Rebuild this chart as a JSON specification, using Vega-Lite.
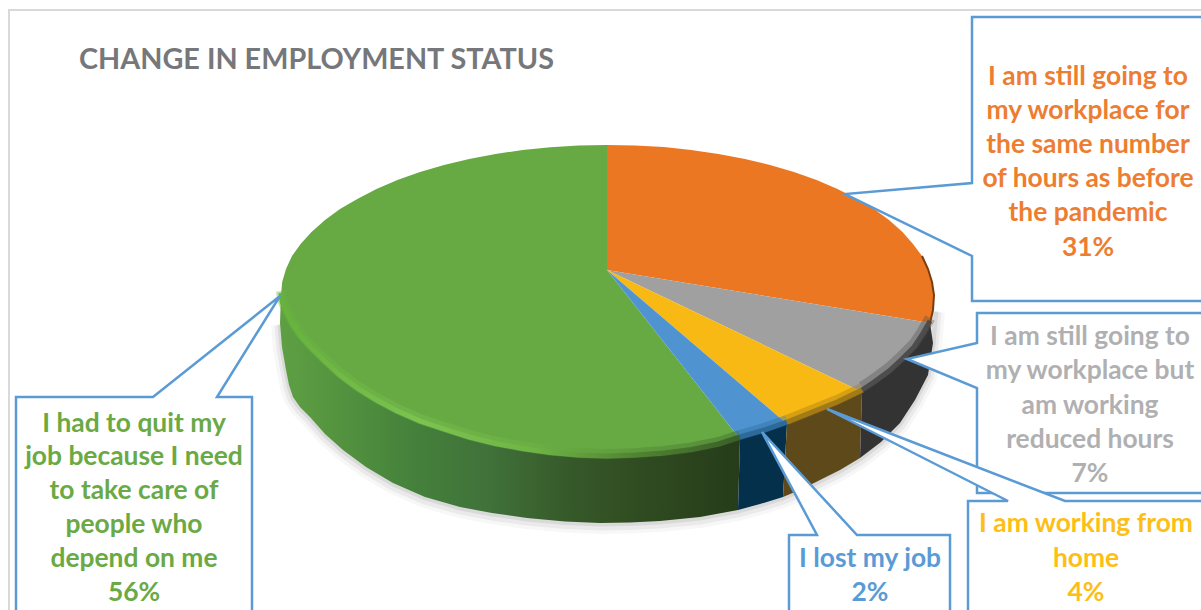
{"$schema":"https://vega.github.io/schema/vega-lite/v6.json","width":1201,"height":610,"padding":0,"autosize":"none","background":"white","config":{"view":{"stroke":null}},
"datasets":{"shapes":[
{"part":"frame","h":1201,"v":10},{"part":"frame","h":9,"v":10},{"part":"frame","h":9,"v":610},
{"part":"edge","h":280,"v":323},{"part":"edge","h":282,"v":347},{"part":"edge","h":286,"v":370},{"part":"edge","h":289,"v":385},{"part":"edge","h":293,"v":397},{"part":"edge","h":300,"v":407},{"part":"edge","h":310,"v":417},{"part":"edge","h":325,"v":434},{"part":"edge","h":343,"v":450},{"part":"edge","h":366,"v":467},{"part":"edge","h":393,"v":483},{"part":"edge","h":425,"v":497},{"part":"edge","h":460,"v":507},{"part":"edge","h":492,"v":513},{"part":"edge","h":527,"v":518},{"part":"edge","h":565,"v":521.5},{"part":"edge","h":600,"v":523},{"part":"edge","h":630,"v":522.5},{"part":"edge","h":660,"v":521},{"part":"edge","h":700,"v":517},{"part":"edge","h":738,"v":510},{"part":"edge","h":760,"v":504},{"part":"edge","h":783,"v":497},{"part":"edge","h":802,"v":489},{"part":"edge","h":820,"v":480},{"part":"edge","h":840,"v":470},{"part":"edge","h":860,"v":458},{"part":"edge","h":881,"v":442},{"part":"edge","h":900,"v":423},{"part":"edge","h":915,"v":400},{"part":"edge","h":928,"v":375},{"part":"edge","h":933,"v":343},{"part":"edge","h":936,"v":310},
{"part":"green wall","h":281,"v":295},{"part":"green wall","h":282,"v":304},{"part":"green wall","h":286,"v":313},{"part":"green wall","h":292,"v":325},{"part":"green wall","h":300.6,"v":338},{"part":"green wall","h":311.5,"v":350},{"part":"green wall","h":324.7,"v":363},{"part":"green wall","h":339.9,"v":377},{"part":"green wall","h":357.3,"v":390},{"part":"green wall","h":376.5,"v":402},{"part":"green wall","h":397.4,"v":413},{"part":"green wall","h":444,"v":431},{"part":"green wall","h":495.5,"v":445.5},{"part":"green wall","h":550,"v":454.5},{"part":"green wall","h":607,"v":458},{"part":"green wall","h":663.6,"v":455},{"part":"green wall","h":718.5,"v":446},{"part":"green wall","h":740,"v":439},{"part":"green wall","h":738,"v":510},{"part":"green wall","h":700,"v":517},{"part":"green wall","h":660,"v":521},{"part":"green wall","h":630,"v":522.5},{"part":"green wall","h":600,"v":523},{"part":"green wall","h":565,"v":521.5},{"part":"green wall","h":527,"v":518},{"part":"green wall","h":492,"v":513},{"part":"green wall","h":460,"v":507},{"part":"green wall","h":425,"v":497},{"part":"green wall","h":393,"v":483},{"part":"green wall","h":366,"v":467},{"part":"green wall","h":343,"v":450},{"part":"green wall","h":325,"v":434},{"part":"green wall","h":310,"v":417},{"part":"green wall","h":300,"v":407},{"part":"green wall","h":293,"v":397},{"part":"green wall","h":289,"v":385},{"part":"green wall","h":286,"v":370},{"part":"green wall","h":282,"v":347},{"part":"green wall","h":280,"v":323},
{"part":"blue wall","h":740,"v":439},{"part":"blue wall","h":764,"v":432},{"part":"blue wall","h":787,"v":424},{"part":"blue wall","h":783,"v":497},{"part":"blue wall","h":760,"v":504},{"part":"blue wall","h":738,"v":510},
{"part":"yellow wall","h":787,"v":424},{"part":"yellow wall","h":812,"v":414},{"part":"yellow wall","h":837,"v":404},{"part":"yellow wall","h":862,"v":392},{"part":"yellow wall","h":860,"v":458},{"part":"yellow wall","h":840,"v":470},{"part":"yellow wall","h":820,"v":480},{"part":"yellow wall","h":802,"v":489},{"part":"yellow wall","h":783,"v":497},
{"part":"gray wall","h":862,"v":392},{"part":"gray wall","h":874,"v":384},{"part":"gray wall","h":889,"v":373},{"part":"gray wall","h":902,"v":361},{"part":"gray wall","h":914,"v":349},{"part":"gray wall","h":922,"v":337},{"part":"gray wall","h":930,"v":323},{"part":"gray wall","h":933,"v":343},{"part":"gray wall","h":928,"v":375},{"part":"gray wall","h":915,"v":400},{"part":"gray wall","h":900,"v":423},{"part":"gray wall","h":881,"v":442},{"part":"gray wall","h":860,"v":458},
{"part":"green","h":607,"v":270},{"part":"green","h":740,"v":439},{"part":"green","h":718.5,"v":446},{"part":"green","h":691.4,"v":451.5},{"part":"green","h":663.6,"v":455},{"part":"green","h":635.4,"v":457},{"part":"green","h":607,"v":458},{"part":"green","h":578.6,"v":457},{"part":"green","h":550.4,"v":454.5},{"part":"green","h":522.6,"v":450.5},{"part":"green","h":495.5,"v":445.5},{"part":"green","h":469.2,"v":439},{"part":"green","h":444,"v":431},{"part":"green","h":420,"v":423},{"part":"green","h":397.4,"v":413},{"part":"green","h":376.5,"v":402},{"part":"green","h":357.3,"v":390},{"part":"green","h":339.9,"v":377},{"part":"green","h":324.7,"v":363},{"part":"green","h":311.5,"v":350},{"part":"green","h":300.6,"v":338},{"part":"green","h":292,"v":325},{"part":"green","h":286,"v":313},{"part":"green","h":282.2,"v":304},{"part":"green","h":281,"v":295},{"part":"green","h":282.2,"v":282},{"part":"green","h":286,"v":269},{"part":"green","h":292,"v":256},{"part":"green","h":300.6,"v":244},{"part":"green","h":311.5,"v":232},{"part":"green","h":325,"v":220},{"part":"green","h":340,"v":209},{"part":"green","h":357.3,"v":199},{"part":"green","h":376.5,"v":189},{"part":"green","h":397.4,"v":180},{"part":"green","h":420,"v":172},{"part":"green","h":444,"v":165},{"part":"green","h":469.2,"v":159},{"part":"green","h":495.5,"v":154},{"part":"green","h":522.6,"v":150},{"part":"green","h":550.4,"v":147.3},{"part":"green","h":578.6,"v":145.6},{"part":"green","h":607,"v":145},
{"part":"orange","h":607,"v":270},{"part":"orange","h":607,"v":145},{"part":"orange","h":635,"v":145.6},{"part":"orange","h":664,"v":147},{"part":"orange","h":691,"v":150},{"part":"orange","h":718.5,"v":154},{"part":"orange","h":745,"v":159},{"part":"orange","h":770,"v":165},{"part":"orange","h":794,"v":172},{"part":"orange","h":816.6,"v":180},{"part":"orange","h":837.5,"v":189},{"part":"orange","h":857,"v":199},{"part":"orange","h":874,"v":209},{"part":"orange","h":889,"v":220},{"part":"orange","h":902.5,"v":232},{"part":"orange","h":913,"v":244},{"part":"orange","h":922,"v":256},{"part":"orange","h":928,"v":269},{"part":"orange","h":932,"v":282},{"part":"orange","h":934,"v":295},{"part":"orange","h":933,"v":310},{"part":"orange","h":930,"v":323},
{"part":"gray","h":607,"v":270},{"part":"gray","h":930,"v":323},{"part":"gray","h":922,"v":337},{"part":"gray","h":914,"v":349},{"part":"gray","h":902,"v":361},{"part":"gray","h":889,"v":373},{"part":"gray","h":874,"v":384},{"part":"gray","h":862,"v":392},
{"part":"yellow","h":607,"v":270},{"part":"yellow","h":862,"v":392},{"part":"yellow","h":837,"v":404},{"part":"yellow","h":812,"v":414},{"part":"yellow","h":787,"v":424},
{"part":"blue","h":607,"v":270},{"part":"blue","h":787,"v":424},{"part":"blue","h":764,"v":432},{"part":"blue","h":740,"v":439},
{"part":"green rim","h":281,"v":295},{"part":"green rim","h":282.2,"v":304},{"part":"green rim","h":286,"v":313},{"part":"green rim","h":292,"v":325},{"part":"green rim","h":300.6,"v":338},{"part":"green rim","h":311.5,"v":350},{"part":"green rim","h":324.7,"v":363},{"part":"green rim","h":339.9,"v":377},{"part":"green rim","h":357.3,"v":390},{"part":"green rim","h":376.5,"v":402},{"part":"green rim","h":397.4,"v":413},{"part":"green rim","h":420,"v":423},{"part":"green rim","h":444,"v":431},{"part":"green rim","h":469.2,"v":439},{"part":"green rim","h":495.5,"v":445.5},{"part":"green rim","h":522.6,"v":450.5},{"part":"green rim","h":550.4,"v":454.5},{"part":"green rim","h":578.6,"v":457},{"part":"green rim","h":607,"v":458},{"part":"green rim","h":635.4,"v":457},{"part":"green rim","h":663.6,"v":455},{"part":"green rim","h":691.4,"v":451.5},{"part":"green rim","h":718.5,"v":446},{"part":"green rim","h":740,"v":439},
{"part":"blue rim","h":740,"v":439},{"part":"blue rim","h":764,"v":432},{"part":"blue rim","h":787,"v":424},
{"part":"yellow rim","h":787,"v":424},{"part":"yellow rim","h":812,"v":414},{"part":"yellow rim","h":837,"v":404},{"part":"yellow rim","h":862,"v":392},
{"part":"gray rim","h":862,"v":392},{"part":"gray rim","h":874,"v":384},{"part":"gray rim","h":889,"v":373},{"part":"gray rim","h":902,"v":361},{"part":"gray rim","h":914,"v":349},{"part":"gray rim","h":922,"v":337},{"part":"gray rim","h":930,"v":323},
{"part":"orange rim","h":922,"v":256},{"part":"orange rim","h":928,"v":269},{"part":"orange rim","h":932,"v":282},{"part":"orange rim","h":934,"v":295},{"part":"orange rim","h":933,"v":310},{"part":"orange rim","h":930,"v":323},
{"part":"a orange callout","h":1201,"v":17},{"part":"a orange callout","h":972,"v":17},{"part":"a orange callout","h":972,"v":183},{"part":"a orange callout","h":845,"v":194},{"part":"a orange callout","h":972,"v":256},{"part":"a orange callout","h":972,"v":301},{"part":"a orange callout","h":1201,"v":301},
{"part":"b gray callout","h":1201,"v":313},{"part":"b gray callout","h":977,"v":313},{"part":"b gray callout","h":977,"v":343},{"part":"b gray callout","h":907,"v":359},{"part":"b gray callout","h":977,"v":388},{"part":"b gray callout","h":977,"v":493},{"part":"b gray callout","h":1201,"v":493},
{"part":"c green callout","h":16,"v":610},{"part":"c green callout","h":16,"v":397},{"part":"c green callout","h":153,"v":397},{"part":"c green callout","h":280,"v":296},{"part":"c green callout","h":217,"v":397},{"part":"c green callout","h":252,"v":397},{"part":"c green callout","h":252,"v":610},
{"part":"d blue callout","h":789,"v":610},{"part":"d blue callout","h":789,"v":535},{"part":"d blue callout","h":817,"v":535},{"part":"d blue callout","h":762,"v":432},{"part":"d blue callout","h":857,"v":535},{"part":"d blue callout","h":950,"v":535},{"part":"d blue callout","h":950,"v":610},
{"part":"e yellow callout","h":968,"v":610},{"part":"e yellow callout","h":968,"v":501},{"part":"e yellow callout","h":1008,"v":501},{"part":"e yellow callout","h":827,"v":409},{"part":"e yellow callout","h":1065,"v":501},{"part":"e yellow callout","h":1201,"v":501}
],
"labels":[
{"status":"title","text":"CHANGE IN EMPLOYMENT STATUS","h":79,"v":60},
{"status":"orange","text":"I am still going to","h":1088,"v":77},{"status":"orange","text":"my workplace for","h":1088,"v":111},{"status":"orange","text":"the same number","h":1088,"v":145},{"status":"orange","text":"of hours as before","h":1088,"v":179},{"status":"orange","text":"the pandemic","h":1088,"v":213},{"status":"orange","text":"31%","h":1088,"v":248},
{"status":"gray","text":"I am still going to","h":1090,"v":337},{"status":"gray","text":"my workplace but","h":1090,"v":371},{"status":"gray","text":"am working","h":1090,"v":406},{"status":"gray","text":"reduced hours","h":1090,"v":440},{"status":"gray","text":"7%","h":1090,"v":474},
{"status":"yellow","text":"I am working from","h":1086,"v":524},{"status":"yellow","text":"home","h":1086,"v":559},{"status":"yellow","text":"4%","h":1086,"v":593},
{"status":"blue","text":"I lost my job","h":870,"v":559},{"status":"blue","text":"2%","h":870,"v":593},
{"status":"green","text":"I had to quit my","h":134,"v":424},{"status":"green","text":"job because I need","h":134,"v":457},{"status":"green","text":"to take care of","h":134,"v":491},{"status":"green","text":"people who","h":134,"v":525},{"status":"green","text":"depend on me","h":134,"v":559},{"status":"green","text":"56%","h":134,"v":593}
]},
"data":{"name":"shapes"},
"transform":[{"window":[{"op":"row_number","as":"n"}]}],
"encoding":{"x":{"field":"h","type":"quantitative","scale":{"domain":[0,1201]},"axis":null},"y":{"field":"v","type":"quantitative","scale":{"domain":[610,0]},"axis":null},"order":{"field":"n","type":"quantitative"}},
"layer":[
{"transform":[{"filter":"datum.part=='frame'"}],"mark":{"type":"line","stroke":"#d9d9d9","strokeWidth":2}},
{"transform":[{"filter":"datum.part=='edge'"}],"mark":{"type":"line","stroke":"#000","strokeWidth":18,"opacity":0.03,"yOffset":2}},
{"transform":[{"filter":"datum.part=='edge'"}],"mark":{"type":"line","stroke":"#000","strokeWidth":11,"opacity":0.05,"yOffset":2}},
{"transform":[{"filter":"datum.part=='edge'"}],"mark":{"type":"line","stroke":"#000","strokeWidth":5,"opacity":0.07,"yOffset":1}},
{"transform":[{"filter":"datum.part=='green wall'"}],"mark":{"type":"line","filled":true,"strokeWidth":0,"fill":{"x1":0,"y1":0,"x2":1,"y2":0,"gradient":"linear","stops":[{"offset":0,"color":"#5f9f43"},{"offset":0.12,"color":"#54943f"},{"offset":0.3,"color":"#44803b"},{"offset":0.45,"color":"#40723a"},{"offset":0.62,"color":"#375a2a"},{"offset":0.8,"color":"#2f4a20"},{"offset":1,"color":"#263c1a"}]}}},
{"transform":[{"filter":"datum.part=='blue wall'"}],"mark":{"type":"line","filled":true,"strokeWidth":0,"fill":"#04304c"}},
{"transform":[{"filter":"datum.part=='yellow wall'"}],"mark":{"type":"line","filled":true,"strokeWidth":0,"fill":"#5e491a"}},
{"transform":[{"filter":"datum.part=='gray wall'"}],"mark":{"type":"line","filled":true,"strokeWidth":0,"fill":"#333333"}},
{"transform":[{"filter":"datum.part=='green'"}],"mark":{"type":"line","filled":true,"strokeWidth":0,"fill":"#67aa44"}},
{"transform":[{"filter":"datum.part=='orange'"}],"mark":{"type":"line","filled":true,"strokeWidth":0,"fill":"#ec7723"}},
{"transform":[{"filter":"datum.part=='gray'"}],"mark":{"type":"line","filled":true,"strokeWidth":0,"fill":"#a0a0a0"}},
{"transform":[{"filter":"datum.part=='yellow'"}],"mark":{"type":"line","filled":true,"strokeWidth":0,"fill":"#f9b914"}},
{"transform":[{"filter":"datum.part=='blue'"}],"mark":{"type":"line","filled":true,"strokeWidth":0,"fill":"#4f94d0"}},
{"transform":[{"filter":"datum.part=='green rim'"}],"mark":{"type":"line","strokeWidth":10,"yOffset":-4,"opacity":0.4,"stroke":{"x1":0,"y1":0,"x2":1,"y2":0,"gradient":"linear","stops":[{"offset":0,"color":"#66b23c"},{"offset":0.3,"color":"#7cc350"},{"offset":0.55,"color":"#6fb545"},{"offset":0.78,"color":"#4f8232"},{"offset":1,"color":"#3a5f28"}]}}},
{"transform":[{"filter":"datum.part=='green rim'"}],"mark":{"type":"line","strokeWidth":5,"yOffset":-2,"stroke":{"x1":0,"y1":0,"x2":1,"y2":0,"gradient":"linear","stops":[{"offset":0,"color":"#66b23c"},{"offset":0.3,"color":"#7cc350"},{"offset":0.55,"color":"#6fb545"},{"offset":0.78,"color":"#4f8232"},{"offset":1,"color":"#3a5f28"}]}}},
{"transform":[{"filter":"datum.part=='blue rim'"}],"mark":{"type":"line","stroke":"#2d6a9a","strokeWidth":10,"opacity":0.4,"yOffset":-4}},
{"transform":[{"filter":"datum.part=='blue rim'"}],"mark":{"type":"line","stroke":"#2d6a9a","strokeWidth":5,"yOffset":-2}},
{"transform":[{"filter":"datum.part=='yellow rim'"}],"mark":{"type":"line","stroke":"#a27a16","strokeWidth":10,"opacity":0.4,"yOffset":-4}},
{"transform":[{"filter":"datum.part=='yellow rim'"}],"mark":{"type":"line","stroke":"#a27a16","strokeWidth":5,"yOffset":-2}},
{"transform":[{"filter":"datum.part=='gray rim'"}],"mark":{"type":"line","stroke":"#4d4d4d","strokeWidth":11,"opacity":0.35,"yOffset":-5}},
{"transform":[{"filter":"datum.part=='gray rim'"}],"mark":{"type":"line","stroke":"#4d4d4d","strokeWidth":5,"yOffset":-2}},
{"transform":[{"filter":"datum.part=='orange rim'"}],"mark":{"type":"line","stroke":"#7a3d10","strokeWidth":2}},
{"transform":[{"filter":"datum.part=='a orange callout'||datum.part=='b gray callout'||datum.part=='c green callout'||datum.part=='d blue callout'||datum.part=='e yellow callout'"}],"mark":{"type":"line","filled":true,"fill":"white","stroke":"#5b9bd5","strokeWidth":2.5,"strokeJoin":"miter"},"encoding":{"detail":{"field":"part"}}},
{"data":{"name":"labels"},"transform":[{"filter":"datum.status=='title'"}],"mark":{"type":"text","align":"left","baseline":"middle","font":"Lato","fontWeight":"bold","fontSize":28.8,"fill":"#76777a"},"encoding":{"order":null,"text":{"field":"text"}}},
{"data":{"name":"labels"},"transform":[{"filter":"datum.status!='title'"}],"mark":{"type":"text","align":"center","baseline":"middle","font":"Lato","fontWeight":"bold","fontSize":26.4},"encoding":{"order":null,"text":{"field":"text"},"fill":{"field":"status","scale":{"domain":["orange","gray","yellow","blue","green"],"range":["#ed7d31","#b0b0b2","#fdbe15","#5b9bd5","#6aa944"]},"legend":null}}}
]}
